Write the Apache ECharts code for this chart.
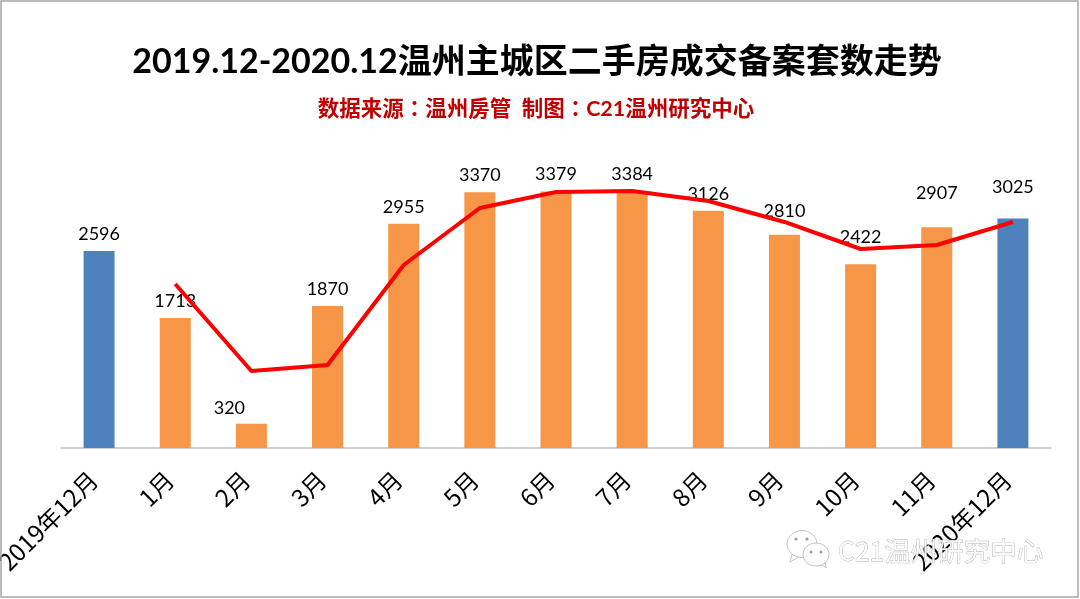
<!DOCTYPE html>
<html><head><meta charset="utf-8">
<style>html,body{margin:0;padding:0;background:#fff}#c{width:1080px;height:599px}</style>
<script src="https://cdn.jsdelivr.net/npm/echarts@6/dist/echarts.min.js"></script>
</head><body><div id="c"></div>
<script>
const categories=['2019年12月','1月','2月','3月','4月','5月','6月','7月','8月','9月','10月','11月','2020年12月'];
const barValues=[2596,1713,320,1870,2955,3370,3379,3384,3126,2810,2422,2907,3025];
const lineValues=[null,2160,1014,1093,2411,3162,3373,3386,3254,2978,2622,2675,2978];
const blueIdx=[0,12];
const labelShift={2:[-22,1],9:[0,-7],10:[0,-10],11:[0,-17],12:[0,-14]};
const titleText='2019.12-2020.12温州主城区二手房成交备案套数走势';
const subText='数据来源：温州房管  制图：C21温州研究中心';
const watermark='C21温州研究中心';
const cjk='Lato,"Noto Sans CJK SC",sans-serif';
const chart=echarts.init(document.getElementById('c'),null,{renderer:'canvas'});
const wm='rgba(255,255,255,0.9)', wmLine='#c4c4c4';
chart.setOption({
  animation:false,backgroundColor:'#fff',
  grid:{left:61,right:29,top:144.4,bottom:151,containLabel:false,outerBoundsMode:'none'},
  xAxis:{type:'category',data:categories,
    axisTick:{show:false},axisLine:{lineStyle:{color:'#bfbfbf',width:1.5}},
    axisLabel:{rotate:45,interval:0,color:'#000',fontSize:24,margin:22,padding:[0,8,0,0],fontFamily:'"Noto Sans CJK SC",sans-serif'}},
  yAxis:{type:'value',min:0,max:4000,show:false,splitLine:{show:false}},
  series:[
    {type:'bar',barWidth:31,
     data:barValues.map((v,i)=>({value:v,itemStyle:{color:blueIdx.includes(i)?'#4f81bd':'#f79646'},
       label:labelShift[i]?{offset:labelShift[i]}:undefined})),
     label:{show:true,position:'top',distance:8,color:'#000',fontSize:18,fontFamily:cjk}},
    {type:'line',data:lineValues,zlevel:1,symbol:'none',connectNulls:false,
     lineStyle:{color:'#ff0000',width:4}}
  ],
  graphic:[
    {type:'rect',zlevel:2,shape:{x:1,y:1,width:1077,height:596},style:{fill:'none',stroke:'#a6a6a6',lineWidth:1.5}},
    {type:'text',x:537,y:62,style:{text:titleText,align:'center',verticalAlign:'middle',fill:'#000',font:'bold 34px '+cjk}},
    {type:'text',x:536,y:109,style:{text:subText,align:'center',verticalAlign:'middle',fill:'#c00000',font:'bold 21.5px Lato,"Noto Sans CJK TC",sans-serif'}},
    {type:'text',zlevel:3,x:838,y:551,style:{text:watermark,align:'left',verticalAlign:'middle',fill:wm,stroke:'rgba(150,150,150,0.75)',lineWidth:0.8,font:'26.5px "Noto Sans CJK SC",sans-serif'}},
    {type:'polygon',zlevel:3,shape:{points:[[792,554],[790,562],[799,557]]},style:{fill:wm,stroke:wmLine,lineWidth:1}},
    {type:'ellipse',zlevel:3,shape:{cx:802,cy:544,rx:15,ry:13.5},style:{fill:wm,stroke:wmLine,lineWidth:1}},
    {type:'circle',zlevel:3,shape:{cx:796,cy:539,r:1.6},style:{fill:'#9a9a9a'}},
    {type:'circle',zlevel:3,shape:{cx:807,cy:539,r:1.6},style:{fill:'#9a9a9a'}},
    {type:'polygon',zlevel:3,shape:{points:[[820,563],[826,568],[825,559]]},style:{fill:wm,stroke:wmLine,lineWidth:1}},
    {type:'ellipse',zlevel:3,shape:{cx:816,cy:554.5,rx:13,ry:11.5},style:{fill:'#fff',stroke:wmLine,lineWidth:1}},
    {type:'circle',zlevel:3,shape:{cx:811,cy:552,r:1.5},style:{fill:'#9a9a9a'}},
    {type:'circle',zlevel:3,shape:{cx:821,cy:552,r:1.5},style:{fill:'#9a9a9a'}}
  ]
});
</script></body></html>
